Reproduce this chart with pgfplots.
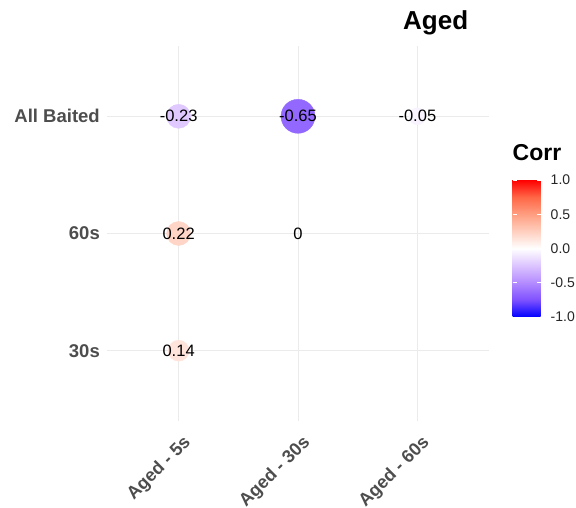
\documentclass[border=0pt]{standalone}
\usepackage{fontspec}
\setmainfont{Liberation Sans}
\usepackage{pgfplots}
\pgfplotsset{compat=1.18}
\usepackage{pgfplotstable}
\usetikzlibrary{calc}

\definecolor{txtgray}{HTML}{4D4D4D}
\definecolor{gridgray}{HTML}{EBEBEB}

% correlation cells: position, value, circle radius (pt), printed label
\pgfplotstableread{
x y r rad lab
1 3 -0.23 12 -0.23
2 3 -0.65 17 -0.65
3 3 -0.05 8.5 -0.05
1 2 0.22 12 0.22
2 2 0 0 0
1 1 0.14 10.5 0.14
}\corrdata

\begin{document}
\begin{tikzpicture}
\useasboundingbox (0,0) rectangle (576pt,508pt);
\begin{axis}[
  at={(107pt,87pt)}, anchor=south west,
  scale only axis, width=382pt, height=375pt,
  xmin=0.4, xmax=3.6, ymin=0.4, ymax=3.6,
  xtick={1,2,3}, ytick={1,2,3},
  xticklabels={Aged - 5s, Aged - 30s, Aged - 60s},
  yticklabels={30s, 60s, All Baited},
  grid=major, major grid style={gridgray, line width=0.8pt},
  axis line style={draw=none}, major tick length=0pt,
  tick label style={font=\fontsize{18.5}{20}\selectfont\bfseries, text=txtgray},
  xticklabel style={font=\fontsize{18}{20}\selectfont\bfseries,
    rotate=45, anchor=north east, inner sep=0pt, yshift=-11.3pt, xshift=-6.5pt},
  yticklabel style={anchor=east, inner sep=0pt, xshift=-7pt},
  colormap={corr}{rgb255=(0,0,255) rgb255=(126,81,255) rgb255=(179,139,255)
    rgb255=(220,196,255) rgb255=(255,255,255) rgb255=(255,207,191)
    rgb255=(255,158,129) rgb255=(255,103,70) rgb255=(255,0,0)},
  point meta min=-1, point meta max=1,
  colorbar,
  colorbar/width=28pt,
  colorbar style={
    at={($(parent axis.north east)+(15pt,-134pt)$)}, anchor=north west,
    width=28pt, height=137pt,
    ytick={-1,-0.5,0,0.5,1},
    yticklabels={-1.0,-0.5,0.0,0.5,1.0},
    yticklabel style={font=\fontsize{14}{16}\selectfont, text=black!85,
      anchor=west, inner sep=0pt, xshift=10pt},
    axis line style={draw=none},
    major tick length=4pt, tick align=inside,
    major tick style={white, line width=0.8pt},
    ytick pos=both, yticklabel pos=right,
    title={Corr},
    title style={font=\fontsize{23}{25}\selectfont\bfseries,
      at={(0,1)}, anchor=south west, inner sep=0pt, yshift=13pt},
  },
  clip=false,
]
\addplot[scatter, only marks, mark=*,
  point meta=\thisrow{r},
  visualization depends on={\thisrow{rad}\as\rad},
  scatter/use mapped color={draw=mapped color, fill=mapped color},
  scatter/@pre marker code/.append style={/tikz/mark size=\rad}]
  table[x=x, y=y]{\corrdata};
\addplot[draw=none, nodes near coords, point meta=explicit symbolic,
  nodes near coords style={anchor=center, text=black,
    font=\fontsize{16.5}{18}\selectfont}]
  table[x=x, y=y, meta=lab]{\corrdata};
\end{axis}
\node[anchor=base west, inner sep=0pt, font=\fontsize{26}{28}\selectfont\bfseries]
  at (403pt,478pt) {Aged};
\end{tikzpicture}
\end{document}
